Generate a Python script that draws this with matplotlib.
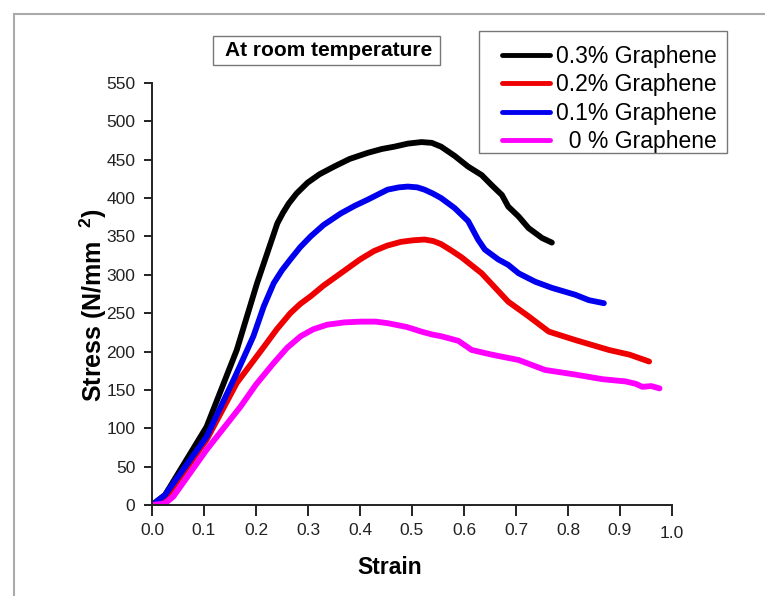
import numpy as np
import matplotlib
matplotlib.use("Agg")
import matplotlib.pyplot as plt
from matplotlib.lines import Line2D
from matplotlib.patches import Rectangle
from matplotlib.transforms import ScaledTranslation

plt.rcParams['font.family'] = ['Liberation Sans', 'DejaVu Sans']
plt.rcParams['mathtext.fontset'] = 'custom'
plt.rcParams['mathtext.rm'] = 'Liberation Sans:bold'
plt.rcParams['mathtext.default'] = 'regular'

# stress-strain data
strain_03 = [0, 0.025, 0.105, 0.163, 0.202, 0.224, 0.241, 0.252, 0.263, 0.278, 0.299,
             0.322, 0.350, 0.380, 0.415, 0.442, 0.466, 0.492, 0.518, 0.538, 0.556,
             0.582, 0.608, 0.634, 0.653, 0.673, 0.685, 0.705, 0.724, 0.750, 0.769]
stress_03 = [0, 13, 102, 202, 289, 333, 367, 381, 393, 406, 420,
             431, 441, 451, 459, 464, 467, 471, 473, 472, 467,
             455, 441, 430, 417, 404, 389, 376, 361, 348, 342]

strain_02 = [0, 0.025, 0.105, 0.163, 0.215, 0.240, 0.266, 0.285, 0.305, 0.330, 0.363,
             0.400, 0.427, 0.452, 0.479, 0.502, 0.524, 0.541, 0.556, 0.575, 0.595,
             0.634, 0.685, 0.724, 0.763, 0.814, 0.879, 0.918, 0.956]
stress_02 = [0, 8, 85, 159, 206, 229, 250, 262, 272, 286, 302,
             320, 331, 338, 343, 345, 346, 344, 340, 332, 323,
             302, 265, 246, 226, 215, 202, 196, 187]

strain_01 = [0, 0.025, 0.105, 0.163, 0.195, 0.215, 0.234, 0.250, 0.266, 0.285, 0.305,
             0.330, 0.363, 0.390, 0.415, 0.453, 0.475, 0.492, 0.510, 0.524, 0.540,
             0.556, 0.582, 0.608, 0.627, 0.640, 0.666, 0.685, 0.705, 0.737, 0.769,
             0.814, 0.840, 0.869]
stress_01 = [0, 13, 89, 172, 220, 259, 289, 306, 320, 336, 350,
             365, 380, 390, 398, 411, 414, 415, 414, 411, 406,
             400, 387, 370, 346, 333, 320, 313, 302, 291, 283,
             274, 267, 263]

strain_00 = [0, 0.025, 0.041, 0.105, 0.170, 0.200, 0.234, 0.260, 0.286, 0.310, 0.337,
             0.370, 0.402, 0.430, 0.453, 0.490, 0.518, 0.540, 0.556, 0.589, 0.615,
             0.653, 0.705, 0.756, 0.814, 0.866, 0.911, 0.930, 0.943, 0.960, 0.976]
stress_00 = [0, 2, 11, 72, 128, 157, 185, 205, 220, 229, 235,
             238, 239, 239, 237, 232, 226, 222, 220, 214, 202,
             196, 189, 176, 170, 164, 161, 158, 154, 155, 152]

labels = ['0.3% Graphene', '0.2% Graphene', '0.1% Graphene', '  0 % Graphene']
colors = ['#000000', '#ee0000', '#0000ee', '#ff00ff']
x_ticks = [0.0, 0.1, 0.2, 0.3, 0.4, 0.5, 0.6, 0.7, 0.8, 0.9, 1.0]
y_ticks = list(range(0, 551, 50))

W, H = 765, 596
fig = plt.figure(figsize=(W / 100, H / 100), dpi=100)
ax = fig.add_axes([152 / W, 91 / H, 520 / W, 422 / H])

series = [(strain_03, stress_03), (strain_02, stress_02),
          (strain_01, stress_01), (strain_00, stress_00)]
for (sx, sy), c, lab in zip(series, colors, labels):
    ax.plot(sx, sy, color=c, lw=4.2, label=lab, solid_capstyle='round',
            solid_joinstyle='round')

ax.set_xlim(0, 1.0)
ax.set_ylim(0, 550)
ax.set_xticks(x_ticks)
ax.set_xticklabels([f'{v:.1f}' for v in x_ticks])
ax.set_yticks(y_ticks)
for s in ['top', 'right']:
    ax.spines[s].set_visible(False)
for s in ['left', 'bottom']:
    ax.spines[s].set_linewidth(1.4)
    ax.spines[s].set_color('#222222')
ax.tick_params(axis='x', direction='out', length=8, width=1.4, color='#222222',
               labelsize=12.5, labelcolor='#222222', pad=5)
ax.tick_params(axis='y', direction='out', length=6, width=1.4, color='#222222',
               labelsize=12.5, labelcolor='#222222', pad=6)

# the last x label sits a bit lower in the original
lbl = ax.get_xticklabels()[-1]
lbl.set_transform(lbl.get_transform() + ScaledTranslation(0, -3 / 100, fig.dpi_scale_trans))

fig.text(390 / W, 1 - 568 / H, 'Strain', ha='center', va='center',
         fontsize=16.5, fontweight='bold')
fig.text(93 / W, 1 - 305 / H, 'Stress (N/mm $^{\\ 2}$)', ha='center', va='center',
         rotation=90, fontsize=18, fontweight='bold')

# title box
fig.patches.append(Rectangle((212.7 / W, 1 - 65 / H), 227.3 / W, 29.3 / H,
                             transform=fig.transFigure, fill=False,
                             edgecolor='#777777', lw=1.0))
fig.text(329 / W, 1 - 51 / H, 'At room temperature', ha='center', va='center',
         fontsize=15, fontweight='bold')

# legend frame drawn separately so rows can sit like in the original
fig.patches.append(Rectangle((479.3 / W, 1 - 153.3 / H), 248 / W, 122.3 / H,
                             transform=fig.transFigure, fill=False,
                             edgecolor='#777777', lw=1.0))
leg = ax.legend(loc='upper right', bbox_to_anchor=(723.5 / W, 1 - 38 / H),
                bbox_transform=fig.transFigure, fontsize=16.5, frameon=False,
                handlelength=2.1, handletextpad=0.25,
                labelspacing=0.24, borderpad=0.3, borderaxespad=0)
for h in leg.get_lines():
    h.set_linewidth(3.5)

# outer frame lines of the original picture
fig.add_artist(Line2D([14 / W, 1], [1 - 14 / H, 1 - 14 / H], transform=fig.transFigure,
                      color='#aaaaaa', lw=1.5))
fig.add_artist(Line2D([14 / W, 14 / W], [0, 1 - 14 / H], transform=fig.transFigure,
                      color='#aaaaaa', lw=1.5))

fig.savefig('out.png', dpi=100)
